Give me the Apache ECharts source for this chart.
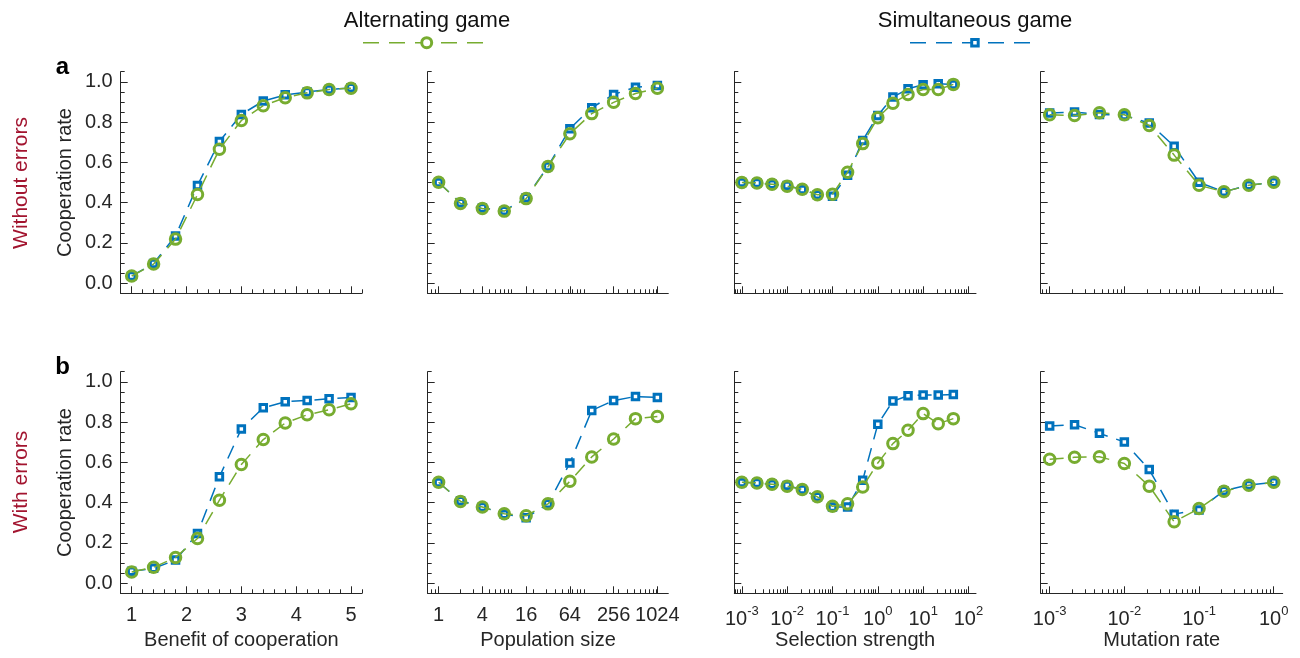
<!DOCTYPE html>
<html><head><meta charset="utf-8">
<script src="https://cdn.jsdelivr.net/npm/echarts@6/dist/echarts.min.js"></script>
<style>html,body{margin:0;padding:0;background:#fff}#c{width:1300px;height:658px}</style>
</head><body><div id="c"></div>
<script>
// ---------- x values ----------
const benefitX = [1, 1.4, 1.8, 2.2, 2.6, 3.0, 3.4, 3.8, 4.2, 4.6, 5.0];
const popX = [1, 2, 4, 8, 16, 32, 64, 128, 256, 512, 1024];
const selX = [0.001, 0.002154, 0.004642, 0.01, 0.02154, 0.04642, 0.1, 0.2154, 0.4642, 1, 2.154, 4.642, 10, 21.54, 46.42];
const mutX = [0.001, 0.002154, 0.004642, 0.01, 0.02154, 0.04642, 0.1, 0.2154, 0.4642, 1];

// ---------- row a: without errors ----------
const benefitAltA = [0.036, 0.095, 0.219, 0.44, 0.665, 0.808, 0.881, 0.921, 0.945, 0.962, 0.968];
const benefitSimA = [0.036, 0.098, 0.235, 0.485, 0.704, 0.838, 0.904, 0.935, 0.949, 0.962, 0.97];
const popAltA = [0.501, 0.396, 0.371, 0.358, 0.42, 0.579, 0.742, 0.842, 0.898, 0.942, 0.968];
const popSimA = [0.50, 0.40, 0.373, 0.36, 0.424, 0.58, 0.767, 0.871, 0.937, 0.973, 0.982];
const selAltA = [0.50, 0.498, 0.491, 0.482, 0.467, 0.439, 0.442, 0.551, 0.693, 0.822, 0.894, 0.937, 0.962, 0.962, 0.987];
const selSimA = [0.50, 0.498, 0.491, 0.485, 0.465, 0.439, 0.432, 0.536, 0.709, 0.833, 0.924, 0.965, 0.985, 0.99, 0.987];
const mutAltA = [0.836, 0.833, 0.846, 0.836, 0.783, 0.636, 0.486, 0.454, 0.486, 0.501];
const mutSimA = [0.845, 0.85, 0.838, 0.833, 0.795, 0.68, 0.501, 0.454, 0.486, 0.501];

// ---------- row b: with errors ----------
const benefitAltB = [0.056, 0.079, 0.128, 0.222, 0.412, 0.589, 0.713, 0.795, 0.836, 0.861, 0.891];
const benefitSimB = [0.059, 0.074, 0.115, 0.247, 0.528, 0.766, 0.871, 0.901, 0.907, 0.916, 0.922];
const popAltB = [0.501, 0.406, 0.378, 0.345, 0.335, 0.394, 0.506, 0.627, 0.716, 0.817, 0.828];
const popSimB = [0.50, 0.409, 0.379, 0.343, 0.325, 0.394, 0.597, 0.858, 0.907, 0.927, 0.922];
const selAltB = [0.501, 0.498, 0.491, 0.482, 0.465, 0.429, 0.382, 0.394, 0.478, 0.597, 0.693, 0.759, 0.842, 0.792, 0.817];
const selSimB = [0.50, 0.498, 0.491, 0.485, 0.465, 0.429, 0.379, 0.379, 0.511, 0.789, 0.904, 0.931, 0.934, 0.934, 0.937];
const mutAltB = [0.615, 0.625, 0.628, 0.594, 0.482, 0.305, 0.371, 0.457, 0.486, 0.501];
const mutSimB = [0.78, 0.787, 0.744, 0.701, 0.564, 0.343, 0.364, 0.459, 0.488, 0.501];

// ---------- ticks ----------
const yLabelTicks = [0, 0.2, 0.4, 0.6, 0.8, 1.0];
const benefitTicks = [1, 2, 3, 4, 5];
const benefitMinor = [0.8, 1, 1.2, 1.4, 1.6, 1.8, 2, 2.2, 2.4, 2.6, 2.8, 3, 3.2, 3.4, 3.6, 3.8, 4, 4.2, 4.4, 4.6, 4.8, 5, 5.2];
const popTicks = [1, 4, 16, 64, 256, 1024];
const popMinor = [0.7, 0.8, 0.9, 2, 3, 5, 6, 7, 8, 9, 10, 20, 30, 40, 50, 60, 70, 80, 90, 100, 200, 300, 400, 500, 600, 700, 800, 900, 1000];
const selTicks = [0.001, 0.01, 0.1, 1, 10, 100];
const selMinor = [0.0007, 0.0008, 0.0009, 0.002, 0.003, 0.004, 0.005, 0.006, 0.007, 0.008, 0.009,
  0.02, 0.03, 0.04, 0.05, 0.06, 0.07, 0.08, 0.09, 0.2, 0.3, 0.4, 0.5, 0.6, 0.7, 0.8, 0.9,
  2, 3, 4, 5, 6, 7, 8, 9, 20, 30, 40, 50, 60, 70, 80, 90];
const mutTicks = [0.001, 0.01, 0.1, 1];
const mutMinor = [0.0008, 0.0009, 0.002, 0.003, 0.004, 0.005, 0.006, 0.007, 0.008, 0.009,
  0.02, 0.03, 0.04, 0.05, 0.06, 0.07, 0.08, 0.09, 0.2, 0.3, 0.4, 0.5, 0.6, 0.7, 0.8, 0.9];

const GREEN = '#77AC30', BLUE = '#0072BD', DARK = '#262626', RED = '#A2142F';
const FONT = "'Liberation Sans', Arial, Helvetica, sans-serif";

const supFmt = v => '{b|10}{s|' + Math.round(Math.log10(v)) + '}';
const columns = [
  { x: benefitX, type: 'value', min: 0.8, max: 5.2, ticks: benefitTicks, minor: benefitMinor, name: 'Benefit of cooperation', fmt: v => String(v),
    alt: [benefitAltA, benefitAltB], sim: [benefitSimA, benefitSimB], left: 120.7, width: 241.3 },
  { x: popX, type: 'log', base: 2, min: Math.pow(2, -0.5), max: Math.pow(2, 10.5), ticks: popTicks, minor: popMinor, name: 'Population size', fmt: v => String(Math.round(v)),
    alt: [popAltA, popAltB], sim: [popSimA, popSimB], left: 427.7, width: 240.6 },
  { x: selX, type: 'log', base: 10, min: Math.pow(10, -3 - 1/6), max: Math.pow(10, 2 + 1/6), ticks: selTicks, minor: selMinor, name: 'Selection strength', fmt: supFmt,
    alt: [selAltA, selAltB], sim: [selSimA, selSimB], left: 734.3, width: 241.7 },
  { x: mutX, type: 'log', base: 10, min: Math.pow(10, -3.12), max: Math.pow(10, 0.12), ticks: mutTicks, minor: mutMinor, name: 'Mutation rate', fmt: supFmt,
    alt: [mutAltA, mutAltB], sim: [mutSimA, mutSimB], left: 1040.7, width: 242 }
];
const rows = [{ top: 71.7, height: 221.6 }, { top: 371.7, height: 221.6 }];

const grid = [], xAxis = [], yAxis = [], series = [];
rows.forEach((r, ri) => {
  columns.forEach((c, ci) => {
    const g = grid.length;
    grid.push({ left: c.left, width: c.width, top: r.top, height: r.height, containLabel: false });
    const xBase = { gridIndex: g, type: c.type, min: c.min, max: c.max, position: 'bottom', splitLine: { show: false } };
    if (c.type === 'log') xBase.logBase = c.base;
    xAxis.push(Object.assign({}, xBase, {
      axisLine: { show: true, onZero: false, lineStyle: { color: DARK, width: 1 } },
      axisTick: { show: true, inside: true, length: 7, customValues: c.ticks, lineStyle: { color: DARK, width: 1 } },
      axisLabel: { show: ri === 1, customValues: c.ticks, formatter: c.fmt, margin: 12, color: DARK,
        fontFamily: FONT, fontSize: 20,
        rich: { b: { fontSize: 20, fontFamily: FONT, color: DARK, verticalAlign: 'bottom', lineHeight: 24 },
                s: { fontSize: 13, fontFamily: FONT, color: DARK, verticalAlign: 'top', lineHeight: 14 } } },
      name: ri === 1 ? c.name : '', nameLocation: 'middle', nameGap: 37,
      nameTextStyle: { fontFamily: FONT, fontSize: 20, color: DARK }
    }));
    xAxis.push(Object.assign({}, xBase, {
      axisLine: { show: false, onZero: false },
      axisTick: { show: true, inside: true, length: 4, customValues: c.minor, lineStyle: { color: DARK, width: 1 } },
      axisLabel: { show: false }
    }));
    const yBase = { gridIndex: g, type: 'value', min: -0.05, max: 1.05, position: 'left', splitLine: { show: false } };
    yAxis.push(Object.assign({}, yBase, {
      axisLine: { show: true, onZero: false, lineStyle: { color: DARK, width: 1 } },
      axisTick: { show: true, inside: true, length: 7, customValues: yLabelTicks, lineStyle: { color: DARK, width: 1 } },
      axisLabel: { show: ci === 0, customValues: yLabelTicks, formatter: v => v.toFixed(1), margin: 8, color: DARK,
        fontFamily: FONT, fontSize: 20 },
      name: ci === 0 ? 'Cooperation rate' : '', nameLocation: 'middle', nameGap: 45,
      nameTextStyle: { fontFamily: FONT, fontSize: 20, color: DARK }
    }));
    yAxis.push(Object.assign({}, yBase, {
      interval: 0.05,
      axisLine: { show: false, onZero: false },
      axisTick: { show: true, inside: true, length: 4, lineStyle: { color: DARK, width: 1 } },
      axisLabel: { show: false }
    }));
    const xi = 2 * g, yi = 2 * g;
    series.push({
      type: 'line', name: 'Simultaneous game', xAxisIndex: xi, yAxisIndex: yi,
      data: c.x.map((v, i) => [v, c.sim[ri][i]]),
      symbol: 'rect', symbolSize: 6.5,
      lineStyle: { color: BLUE, width: 1.5, type: [14, 9] },
      itemStyle: { color: '#ffffff', borderColor: BLUE, borderWidth: 3 },
      z: 2
    });
    series.push({
      type: 'line', name: 'Alternating game', xAxisIndex: xi, yAxisIndex: yi,
      data: c.x.map((v, i) => [v, c.alt[ri][i]]),
      symbol: 'circle', symbolSize: 10.5,
      lineStyle: { color: GREEN, width: 1.5, type: [14, 9] },
      itemStyle: { color: 'rgba(255,255,255,0)', borderColor: GREEN, borderWidth: 3 },
      z: 3
    });
  });
});

const graphic = [
  { type: 'text', x: 427, y: 21, style: { text: 'Alternating game', font: '22px ' + FONT, fill: '#111', align: 'center', verticalAlign: 'middle' } },
  { type: 'line', shape: { x1: 363, y1: 42.7, x2: 483, y2: 42.7 }, style: { stroke: GREEN, lineWidth: 1.5, lineDash: [16, 10] } },
  { type: 'circle', shape: { cx: 426.7, cy: 42.7, r: 5 }, style: { fill: '#fff', stroke: GREEN, lineWidth: 3 } },
  { type: 'text', x: 975, y: 21, style: { text: 'Simultaneous game', font: '22px ' + FONT, fill: '#111', align: 'center', verticalAlign: 'middle' } },
  { type: 'line', shape: { x1: 910, y1: 42.7, x2: 1030, y2: 42.7 }, style: { stroke: BLUE, lineWidth: 1.5, lineDash: [16, 10] } },
  { type: 'rect', shape: { x: 971.7, y: 39.5, width: 6.5, height: 6.5 }, style: { fill: '#fff', stroke: BLUE, lineWidth: 3 } },
  { type: 'text', x: 21.7, y: 183, rotation: Math.PI / 2, style: { text: 'Without errors', font: '21px ' + FONT, fill: RED, align: 'center', verticalAlign: 'middle' } },
  { type: 'text', x: 21.7, y: 482, rotation: Math.PI / 2, style: { text: 'With errors', font: '21px ' + FONT, fill: RED, align: 'center', verticalAlign: 'middle' } },
  { type: 'text', x: 62.5, y: 67, style: { text: 'a', font: 'bold 24px ' + FONT, fill: '#000', align: 'center', verticalAlign: 'middle' } },
  { type: 'text', x: 62.5, y: 367, style: { text: 'b', font: 'bold 24px ' + FONT, fill: '#000', align: 'center', verticalAlign: 'middle' } }
];

const chart = echarts.init(document.getElementById('c'), null, { renderer: 'canvas' });
chart.setOption({
  animation: false,
  backgroundColor: '#ffffff',
  grid, xAxis, yAxis, series, graphic
});
</script>
</body></html>
